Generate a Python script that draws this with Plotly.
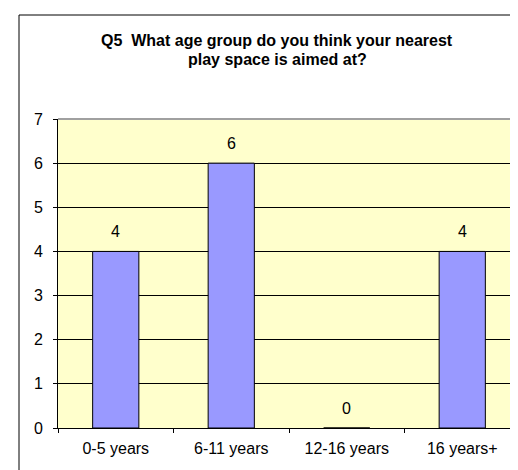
import plotly.graph_objects as go

categories = ["0-5 years", "6-11 years", "12-16 years", "16 years+"]
values = [4, 6, 0, 4]
y_ticks = [0, 1, 2, 3, 4, 5, 6, 7]
title_lines = ["Q5  What age group do you think your nearest", "play space is aimed at?"]

FONT = "Liberation Sans, Arial, sans-serif"

fig = go.Figure()
fig.add_trace(go.Bar(
    x=categories, y=values, width=0.4,
    marker=dict(color="#9999FF", line=dict(color="#000000", width=1)),
    hoverinfo="skip",
))

for c, v in zip(categories, values):
    fig.add_annotation(x=c, y=v, text=str(v), showarrow=False, yshift=20,
                       font=dict(family=FONT, size=16, color="#000000"))

W, H = 518, 470
L, R, T, B = 50, 6, 111, 50
pw, ph = W - L - R, H - T - B

for line, yc in zip(title_lines, [32, 52]):
    fig.add_annotation(xref="paper", yref="paper", x=(269 - L) / pw, y=1 + (T - yc) / ph,
                       text="<b>" + line + "</b>", showarrow=False,
                       xanchor="center", yanchor="middle",
                       font=dict(family=FONT, size=16, color="#000000"))

# outer chart border (right/bottom lie off-canvas)
fig.add_shape(type="rect", xref="paper", yref="paper",
              x0=(11 - L) / pw, x1=(530 - L) / pw, y0=-(480 - (H - B)) / ph, y1=1 + (T - 7) / ph,
              line=dict(color="#000000", width=1), fillcolor="rgba(0,0,0,0)", layer="above")
# plot area top/right border (gray)
fig.add_shape(type="line", xref="paper", yref="paper", x0=0, x1=1, y0=1, y1=1,
              line=dict(color="#A0A0A0", width=2))
fig.add_shape(type="line", xref="paper", yref="paper", x0=1, x1=1, y0=0, y1=1,
              line=dict(color="#A0A0A0", width=2))

fig.update_layout(
    width=W, height=H,
    margin=dict(l=L, r=R, t=T, b=B),
    paper_bgcolor="#FFFFFF", plot_bgcolor="#FFFFCC",
    showlegend=False, bargap=0.6,
    font=dict(family=FONT, size=16, color="#000000"),
    xaxis=dict(range=[-0.5, 3.5], showline=True, linecolor="#000000", linewidth=1,
               ticks="outside", ticklen=4, tickcolor="#000000", tickson="boundaries",
               showgrid=False, ticklabelstandoff=6,
               tickfont=dict(family=FONT, size=16, color="#000000")),
    yaxis=dict(range=[0, 7], tickvals=y_ticks, showline=True, linecolor="#000000", linewidth=1,
               ticks="outside", ticklen=4, tickcolor="#000000",
               showgrid=True, gridcolor="#000000", gridwidth=1, zeroline=False,
               ticklabelstandoff=7,
               tickfont=dict(family=FONT, size=16, color="#000000")),
)

fig.write_html("out.html")
